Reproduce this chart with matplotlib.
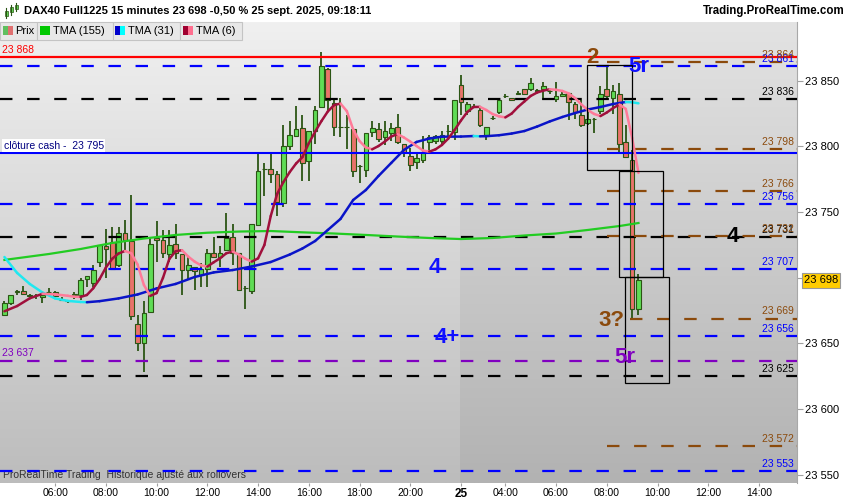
import numpy as np
import matplotlib
matplotlib.use('Agg')
import matplotlib.pyplot as plt
from matplotlib.patches import Rectangle
from matplotlib.collections import LineCollection
from matplotlib.colors import LinearSegmentedColormap

# DAX40 Full1225, 15 minute bars (24 -> 25 sept. 2025)
# bar index 0 = 06:00 on the 24th, bars are consecutive
first_bar = -7
opens  = [23672, 23681, 23689, 23690, 23687, 23687, 23685, 23689, 23689, 23683,
          23682, 23687, 23687, 23699, 23696, 23712, 23724, 23727, 23710, 23734,
          23728, 23665, 23650, 23674, 23730, 23729, 23718, 23726, 23718, 23706,
          23708, 23702, 23707, 23719, 23716, 23721, 23731, 23719, 23692, 23690,
          23740, 23783, 23783, 23779, 23757, 23800, 23808, 23814, 23789, 23812,
          23830, 23859, 23833, 23815, 23815, 23813, 23785, 23782, 23811, 23813,
          23807, 23810, 23815, 23802, 23793, 23788, 23790, 23803, 23804, 23804,
          23812, 23811, 23847, 23827, 23831, 23828, 23809, 23822, 23826, 23838,
          23837, 23840, 23844, 23844, 23843, 23844, 23842, 23836, 23838, 23841,
          23832, 23824, 23818, 23821, 23827, 23844, 23837, 23840, 23803, 23790,
          23676]
highs  = [23682, 23687, 23691, 23694, 23688, 23688, 23689, 23692, 23690, 23685,
          23682, 23689, 23700, 23701, 23710, 23725, 23737, 23739, 23739, 23744,
          23763, 23672, 23682, 23731, 23743, 23736, 23736, 23741, 23718, 23716,
          23708, 23711, 23722, 23731, 23724, 23749, 23741, 23719, 23694, 23741,
          23795, 23787, 23796, 23781, 23816, 23819, 23831, 23824, 23812, 23831,
          23872, 23860, 23837, 23837, 23824, 23813, 23786, 23810, 23819, 23818,
          23819, 23818, 23825, 23802, 23799, 23795, 23808, 23809, 23809, 23812,
          23816, 23835, 23854, 23834, 23832, 23830, 23815, 23823, 23837, 23840,
          23837, 23842, 23844, 23852, 23844, 23849, 23844, 23849, 23843, 23841,
          23834, 23835, 23828, 23822, 23846, 23861, 23847, 23848, 23816, 23797,
          23703]
lows   = [23671, 23679, 23687, 23687, 23685, 23684, 23681, 23686, 23685, 23682,
          23681, 23684, 23683, 23693, 23693, 23708, 23700, 23707, 23708, 23720,
          23668, 23644, 23628, 23674, 23712, 23715, 23712, 23714, 23687, 23698,
          23691, 23693, 23693, 23716, 23708, 23721, 23710, 23690, 23676, 23688,
          23740, 23762, 23772, 23747, 23754, 23797, 23807, 23774, 23774, 23802,
          23829, 23828, 23808, 23807, 23798, 23777, 23772, 23777, 23807, 23803,
          23801, 23804, 23802, 23792, 23781, 23783, 23787, 23795, 23802, 23802,
          23805, 23805, 23824, 23824, 23830, 23815, 23805, 23820, 23825, 23837,
          23835, 23839, 23840, 23842, 23841, 23835, 23840, 23834, 23838, 23820,
          23821, 23815, 23816, 23810, 23825, 23837, 23825, 23794, 23791, 23669,
          23672]
closes = [23681, 23687, 23690, 23688, 23686, 23687, 23687, 23689, 23686, 23683,
          23682, 23688, 23698, 23701, 23706, 23725, 23722, 23707, 23734, 23729,
          23671, 23650, 23673, 23726, 23729, 23719, 23725, 23719, 23706, 23710,
          23705, 23707, 23719, 23716, 23719, 23730, 23719, 23691, 23692, 23741,
          23781, 23783, 23779, 23758, 23800, 23809, 23813, 23787, 23812, 23828,
          23861, 23835, 23815, 23815, 23815, 23781, 23785, 23810, 23814, 23806,
          23812, 23814, 23803, 23796, 23786, 23791, 23796, 23807, 23808, 23809,
          23812, 23835, 23834, 23832, 23831, 23816, 23815, 23822, 23835, 23838,
          23835, 23841, 23840, 23848, 23842, 23846, 23842, 23838, 23840, 23834,
          23826, 23816, 23821, 23821, 23840, 23838, 23842, 23802, 23792, 23676,
          23698]

# TMA (6)
tma6_idx = [-7, -5, -3, -1, 1, 3, 4, 5, 6, 7, 8, 9, 10, 11, 12, 13, 14, 15, 16, 17,
            18, 19, 20, 21, 22, 23, 24, 25, 26, 27, 28, 29, 30, 31, 32, 33, 34, 35,
            36, 37, 38, 39, 40, 41, 42, 43, 44, 45, 46, 47, 48, 49, 50, 51, 52, 53,
            54, 55, 56, 57, 58, 59, 60, 61, 62, 63, 64, 65, 66, 67, 68, 69, 70, 71,
            72, 73, 74, 75, 76, 77, 78, 79, 80, 81, 82, 83, 84, 85, 86, 87, 88, 89,
            90, 91, 92, 93]
tma6_val = [23674.5, 23678.5, 23684.4, 23687.8, 23687.4, 23686.3, 23685.6, 23685.4,
            23686.9, 23692.0, 23699.0, 23707.8, 23714.5, 23718.5, 23720.4, 23718.7,
            23710.1, 23694.5, 23686.2, 23688.4, 23699.9, 23714.3, 23720.2, 23721.0,
            23716.1, 23712.3, 23709.5, 23708.5, 23711.8, 23714.8, 23718.7, 23719.9,
            23717.6, 23714.5, 23712.3, 23714.8, 23725.0, 23747.0, 23763.8, 23772.9,
            23780.5, 23787.0, 23791.9, 23802.4, 23811.2, 23819.3, 23826.6, 23831.5,
            23832.6, 23826.9, 23812.9, 23804.1, 23799.2, 23797.8, 23800.3, 23803.7,
            23807.5, 23809.4, 23806.8, 23803.7, 23800.3, 23796.9, 23796.0, 23797.8,
            23801.1, 23806.0, 23812.5, 23819.7, 23826.2, 23830.0, 23830.1, 23827.7,
            23824.6, 23822.9, 23822.1, 23825.0, 23830.0, 23834.2, 23838.4, 23841.0,
            23842.5, 23843.5, 23843.1, 23842.2, 23840.3, 23836.8, 23831.9, 23827.7,
            23824.7, 23823.1, 23825.8, 23829.2, 23831.9, 23828.5, 23806.4, 23779.8]

# TMA (31)
tma31_idx = [-7, -5, -3, -1, 1, 3, 5, 6, 8, 11, 14, 17, 20, 23, 26, 29, 32, 35, 38,
             40, 42, 44, 46, 48, 50, 52, 54, 56, 58, 60, 62, 65, 67, 68, 69, 71, 73,
             75, 77, 79, 81, 83, 85, 87, 89, 91, 92, 93]
tma31_val = [23715.8, 23703.7, 23695.3, 23688.8, 23684.3, 23682.4, 23681.6, 23681.4,
             23682.2, 23684.3, 23687.3, 23691.9, 23695.3, 23700.6, 23704.1, 23705.9,
             23708.6, 23712.0, 23717.7, 23722.3, 23728.0, 23736.4, 23744.8, 23759.2,
             23766.8, 23777.5, 23787.4, 23797.3, 23803.4, 23806.0, 23807.4, 23807.5,
             23807.9, 23807.7, 23807.8, 23808.5, 23809.8, 23811.7, 23815.1, 23819.0,
             23822.4, 23825.4, 23828.1, 23830.0, 23832.3, 23833.8, 23833.6, 23832.8]

# TMA (155)
tma155_idx = [-7, 0, 5, 10, 15, 20, 25, 30, 35, 40, 45, 50, 55, 60, 65, 70, 75, 80,
              85, 90, 93]
tma155_val = [23713.6, 23718.1, 23721.9, 23726.5, 23729.9, 23732.6, 23734.3, 23735.2,
              23735.6, 23734.6, 23733.7, 23732.6, 23731.4, 23730.3, 23729.5, 23730.3,
              23732.2, 23733.7, 23736.4, 23739.4, 23741.7]

# horizontal levels
blue_dashed   = [23861, 23756, 23707, 23656, 23553]
black_dashed  = [23836, 23731, 23625]
purple_dashed = [23637]
brown_dashed  = [23864, 23798, 23766, 23732, 23572]
brown_late    = [23669]
red_level     = 23868
cash_close    = 23795
last_price    = 23698

xtick_pos    = [1, 9, 17, 25, 33, 41, 49, 57, 65, 72, 80, 88, 96, 104, 112]
xtick_labels = ['06:00', '08:00', '10:00', '12:00', '14:00', '16:00', '18:00', '20:00',
                '25', '04:00', '06:00', '08:00', '10:00', '12:00', '14:00']
ytick_pos    = [23550, 23600, 23650, 23700, 23750, 23800, 23850]

plt.rcParams['font.family'] = ['Liberation Sans', 'DejaVu Sans']

BLUE = '#0000ff'
BROWN = '#8b4a0c'
PURPLE = '#8000c0'
WICK = '#2b5514'

W, H = 850, 500
fig = plt.figure(figsize=(8.5, 5), dpi=100, facecolor='white')
ax = fig.add_axes([0, 1 - 483 / H, 797 / W, (483 - 22) / H])

xmin, xmax = -7.7, 118.0
ymin, ymax = 23543.8, 23894.7
split = 64.8  # new session background

grad = np.linspace(0, 1, 256).reshape(-1, 1)
cm_left = LinearSegmentedColormap.from_list('l', ['#f0f0f0', '#bcbcbc'])
cm_right = LinearSegmentedColormap.from_list('r', ['#e3e3e3', '#b2b2b2'])
ax.imshow(grad, cmap=cm_left, extent=[xmin, split, ymin, ymax], aspect='auto', origin='upper', zorder=0)
ax.imshow(grad, cmap=cm_right, extent=[split, xmax, ymin, ymax], aspect='auto', origin='upper', zorder=0)

# candles
idx = np.arange(first_bar, first_bar + len(opens))
o = np.array(opens, float)
c = np.array(closes, float)
fills = ['#5fdc55' if cc > oo else ('#e8736a' if cc < oo else WICK) for oo, cc in zip(o, c)]
ax.vlines(idx, lows, highs, color=WICK, lw=1.3, zorder=2)
ax.bar(idx, np.abs(c - o), bottom=np.minimum(o, c), width=0.74, color=fills,
       edgecolor=WICK, linewidth=0.8, zorder=3)

# levels
dash = (0, (5.6, 6.6))
for p in blue_dashed:
    ax.plot([xmin, xmax], [p, p], color=BLUE, lw=1.6, ls=dash, zorder=4)
for p in black_dashed:
    ax.plot([xmin, xmax], [p, p], color='black', lw=1.6, ls=dash, zorder=4)
for p in purple_dashed:
    ax.plot([xmin, xmax], [p, p], color=PURPLE, lw=1.6, ls=dash, zorder=4)
for p in brown_dashed:
    ax.plot([88, xmax], [p, p], color=BROWN, lw=1.6, ls=dash, zorder=4)
for p in brown_late:
    ax.plot([91.7, xmax], [p, p], color=BROWN, lw=1.6, ls=dash, zorder=4)
ax.axhline(red_level, color='#ff0000', lw=1.6, zorder=4)
ax.axhline(cash_close, color=BLUE, lw=1.5, zorder=4)


def two_colour(xs, ys, up, down, lw):
    pts = np.column_stack([xs, ys])
    segs = np.stack([pts[:-1], pts[1:]], axis=1)
    cols = [up if b >= a else down for a, b in zip(ys[:-1], ys[1:])]
    ax.add_collection(LineCollection(segs, colors=cols, linewidths=lw, zorder=5,
                                     capstyle='round', joinstyle='round'))


ax.plot(tma155_idx, tma155_val, color='#22cc22', lw=1.6, zorder=5)
two_colour(tma31_idx, tma31_val, '#0a14c8', '#20e8f0', 1.8)
two_colour(tma6_idx, tma6_val, '#a0103c', '#ff7a98', 1.8)

# wave boxes
for (x0, y0, x1, y1) in [(84.9, 23782.0, 92.0, 23861.9),
                         (89.9, 23700.6, 96.9, 23781.3),
                         (90.9, 23620.0, 97.8, 23700.6)]:
    ax.add_patch(Rectangle((x0, y0), x1 - x0, y1 - y0, fill=False, ec='black', lw=0.9, zorder=6))

# wave counts
big = dict(fontsize=16, fontweight='bold', ha='center', va='center', zorder=7)
ax.text(85.7, 23867.3, '2', color=BROWN, **big)
ax.text(93.0, 23861.2, '5r', color='#1010ff', **big)
ax.text(107.8, 23731.8, '4', color='black', **big)
ax.text(60.9, 23707.5, '4', color='#1010ff', **big)
ax.text(62.8, 23654.2, '4+', color='#1010ff', **big)
ax.text(88.8, 23667.5, '3?', color=BROWN, **big)
ax.text(90.9, 23639.3, '5r', color=PURPLE, **big)


def fmt(v):
    return f'{int(round(v)):,}'.replace(',', ' ')


def right_label(p, color):
    ax.annotate(fmt(p), xy=(0.996, p), xycoords=('axes fraction', 'data'), xytext=(0, 1.5),
                textcoords='offset points', ha='right', va='bottom', color=color,
                fontsize=7.5, zorder=7)


for p in blue_dashed:
    right_label(p, BLUE)
for p in black_dashed:
    right_label(p, 'black')
for p in brown_dashed + brown_late:
    right_label(p, BROWN)

ax.annotate(fmt(red_level), xy=(0.003, red_level), xycoords=('axes fraction', 'data'),
            xytext=(0, 1.5), textcoords='offset points', ha='left', va='bottom',
            color='#ff0000', fontsize=7.5, zorder=7)
ax.annotate(fmt(purple_dashed[0]), xy=(0.003, purple_dashed[0]), xycoords=('axes fraction', 'data'),
            xytext=(0, 1.5), textcoords='offset points', ha='left', va='bottom',
            color=PURPLE, fontsize=7.5, zorder=7)
ax.annotate('clôture cash -  ' + fmt(cash_close), xy=(0.003, cash_close),
            xycoords=('axes fraction', 'data'), xytext=(1, 1.5), textcoords='offset points',
            ha='left', va='bottom', color='#000080', fontsize=7.5, zorder=7,
            bbox=dict(boxstyle='square,pad=0.15', fc='white', ec='none'))

ax.text(0.004, 0.018, 'ProRealTime Trading  Historique ajusté aux rollovers', transform=ax.transAxes,
        fontsize=7.5, color='#333333', va='center', ha='left', zorder=3)

# axes
ax.set_xlim(xmin, xmax)
ax.set_ylim(ymin, ymax)
for s in ['top', 'left', 'bottom']:
    ax.spines[s].set_visible(False)
ax.spines['right'].set_color('#a8a8a8')
ax.yaxis.tick_right()
ax.set_yticks(ytick_pos)
ax.set_yticklabels([fmt(v) for v in ytick_pos])
ax.tick_params(axis='y', length=4, color='#a0a0a0', labelsize=8, pad=2)
ax.set_xticks(xtick_pos)
ax.set_xticklabels(xtick_labels)
ax.tick_params(axis='x', length=2.5, color='#a0a0a0', labelsize=7.5, pad=0.8)
for t in ax.get_xticklabels():
    if t.get_text() == '25':
        t.set_fontweight('bold')
        t.set_fontsize(8.5)

# last price tag
ax.annotate(fmt(last_price), xy=(1.0, last_price), xycoords=('axes fraction', 'data'),
            xytext=(5, 0), textcoords='offset points', ha='left', va='center', fontsize=8,
            color='black', annotation_clip=False,
            bbox=dict(boxstyle='square,pad=0.2', fc='#ffcc00', ec='#999999', lw=0.8))

# header and legend row (pixel layout)
def px_rect(x, y, w, h, **kw):
    fig.add_artist(Rectangle((x / W, 1 - (y + h) / H), w / W, h / H, transform=fig.transFigure, **kw))


fig.text(24 / W, 1 - 11 / H, 'DAX40 Full1225 15 minutes 23 698 -0,50 % 25 sept. 2025, 09:18:11',
         fontsize=8, fontweight='bold', va='center', ha='left')
fig.text(845 / W, 1 - 11 / H, 'Trading.ProRealTime.com', fontsize=8.3, fontweight='bold',
         va='center', ha='right')
# little candle icon
for (x, y0, y1, b0, b1) in [(6, 8, 18, 11, 16), (11, 5, 15, 7, 12), (16, 3, 11, 5, 9)]:
    fig.add_artist(plt.Line2D([x / W, x / W], [1 - y1 / H, 1 - y0 / H], color=WICK, lw=0.8,
                              transform=fig.transFigure))
    px_rect(x - 1.5, b0, 3, b1 - b0, fc='#5fdc55', ec=WICK, lw=0.5)

boxes = [(0, 37.3, 'Prix', ['#5fbf5f', '#e07070']),
         (37.3, 75.4, 'TMA (155)', ['#00c800']),
         (112.7, 67.6, 'TMA (31)', ['#0000cc', '#00ffff']),
         (180.3, 62, 'TMA (6)', ['#a00030', '#ff6f8f'])]
for (bx, bw, label, cols) in boxes:
    px_rect(bx, 22, bw, 18, fc='#e8e8e8', ec='#c4c4c4', lw=0.8)
    sw = 10 / len(cols)
    for k, col in enumerate(cols):
        px_rect(bx + 2.5 + k * sw, 26.3, sw, 8.7, fc=col, ec='none')
    fig.text((bx + 15.5) / W, 1 - 31 / H, label, fontsize=8, va='center', ha='left')

fig.savefig('out.png', dpi=100, facecolor='white')
